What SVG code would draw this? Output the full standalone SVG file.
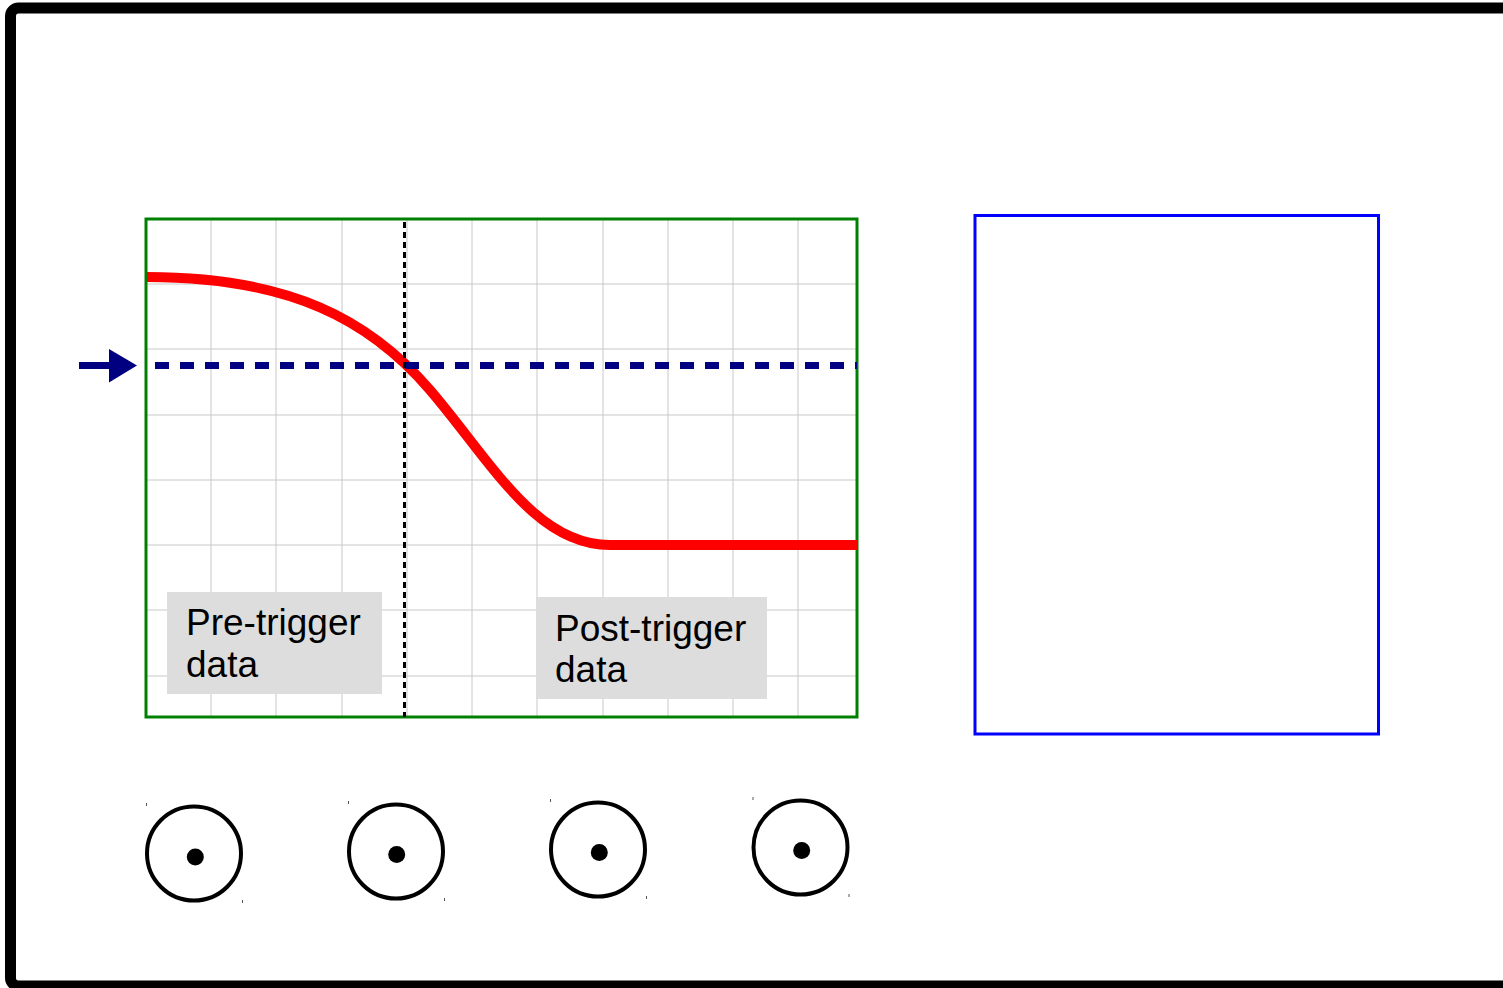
<svg xmlns="http://www.w3.org/2000/svg" width="1503" height="988" viewBox="0 0 1503 988">
<style>
.grid{stroke:#c8c8c8;stroke-width:1;fill:none}
.lbl{fill:#dddddd}
.txt{font-family:"Liberation Sans",Arial,sans-serif;font-size:37px;fill:#000000}
.knob{fill:none;stroke:#000000;stroke-width:4}
.dot{fill:#000000}
.tick{stroke:#555555;stroke-width:1}
</style>
<rect width="1503" height="988" fill="#ffffff"/>
<g id="frame">
<rect x="10.5" y="8" width="1600" height="978" rx="8" fill="none" stroke="#000000" stroke-width="11"/>
</g>
<g id="screen">
<g class="grid">
<path d="M211,219V717M276,219V717M342,219V717M407,219V717M472,219V717M537,219V717M603,219V717M668,219V717M733,219V717M798,219V717"/>
<path d="M146,284H856M146,349H856M146,415H856M146,480H856M146,545H856M146,610H856M146,676H856"/>
</g>
<rect x="146" y="219" width="711" height="498" fill="none" stroke="#008000" stroke-width="3"/>
</g>
<g id="waveform">
<path d="M147,277 C290,277 370,320 430,390 C490,460 535,545 610,545 L857,545" fill="none" stroke="#ff0000" stroke-width="10"/>
</g>
<g id="connectors">
<line x1="155" y1="365.5" x2="857" y2="365.5" stroke="#000080" stroke-width="7" stroke-dasharray="14 11"/>
<line x1="404.5" y1="222" x2="404.5" y2="717" stroke="#000000" stroke-width="3" stroke-dasharray="6 4"/>
</g>
<g id="trigger-arrow">
<line x1="79" y1="365.5" x2="112" y2="365.5" stroke="#000080" stroke-width="7"/>
<polygon points="109,349 137,365.5 109,382.5" fill="#000080"/>
</g>
<g id="pre-label">
<rect class="lbl" x="167" y="592" width="215" height="102"/>
<text class="txt" x="186" y="635">Pre-trigger</text>
<text class="txt" x="186" y="677">data</text>
</g>
<g id="post-label">
<rect class="lbl" x="536" y="597" width="231" height="102"/>
<text class="txt" x="555" y="641">Post-trigger</text>
<text class="txt" x="555" y="682">data</text>
</g>
<g id="knob1">
<circle class="knob" cx="194" cy="853.5" r="47"/>
<circle class="dot" cx="195.3" cy="857" r="8.5"/>
<line class="tick" x1="146.5" y1="803" x2="146.5" y2="806"/>
<line class="tick" x1="242.5" y1="900" x2="242.5" y2="903"/>
</g>
<g id="knob2">
<circle class="knob" cx="396" cy="851.5" r="47"/>
<circle class="dot" cx="396.7" cy="854.5" r="8.5"/>
<line class="tick" x1="348.5" y1="801" x2="348.5" y2="804"/>
<line class="tick" x1="444.5" y1="898" x2="444.5" y2="901"/>
</g>
<g id="knob3">
<circle class="knob" cx="598" cy="849.5" r="47"/>
<circle class="dot" cx="599.3" cy="852.5" r="8.5"/>
<line class="tick" x1="550.5" y1="799" x2="550.5" y2="802"/>
<line class="tick" x1="646.5" y1="896" x2="646.5" y2="899"/>
</g>
<g id="knob4">
<circle class="knob" cx="800.5" cy="847.5" r="47"/>
<circle class="dot" cx="801.7" cy="850.5" r="8.5"/>
<line class="tick" x1="753" y1="797" x2="753" y2="800"/>
<line class="tick" x1="849" y1="894" x2="849" y2="897"/>
</g>
<g id="side-panel">
<rect x="975" y="215.5" width="403.5" height="518.5" fill="none" stroke="#0000ff" stroke-width="3"/>
</g>
</svg>
